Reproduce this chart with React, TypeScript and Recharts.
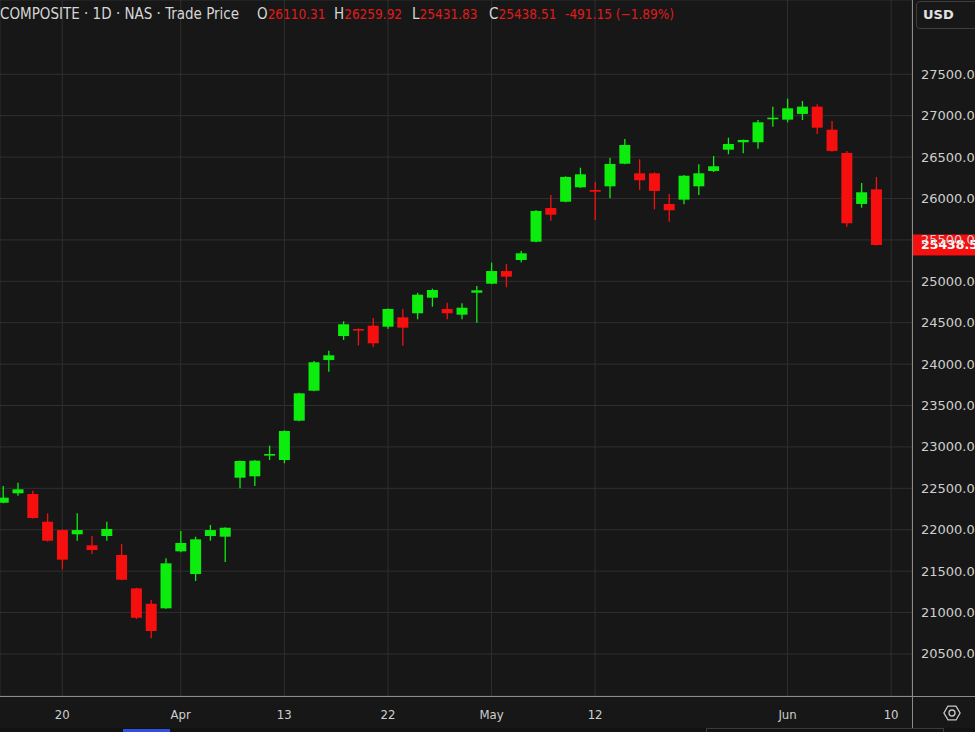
import React from "react";
import {
  ComposedChart,
  Bar,
  XAxis,
  YAxis,
  CartesianGrid,
  ReferenceLine,
} from "recharts";

// ---------- data ----------
const dates = [
  "2026-03-16", "2026-03-17", "2026-03-18", "2026-03-19", "2026-03-20",
  "2026-03-23", "2026-03-24", "2026-03-25", "2026-03-26", "2026-03-27",
  "2026-03-30", "2026-03-31", "2026-04-01", "2026-04-02", "2026-04-06",
  "2026-04-07", "2026-04-08", "2026-04-09", "2026-04-10", "2026-04-13",
  "2026-04-14", "2026-04-15", "2026-04-16", "2026-04-17", "2026-04-20",
  "2026-04-21", "2026-04-22", "2026-04-23", "2026-04-24", "2026-04-27",
  "2026-04-28", "2026-04-29", "2026-04-30", "2026-05-01", "2026-05-04",
  "2026-05-05", "2026-05-06", "2026-05-07", "2026-05-08", "2026-05-11",
  "2026-05-12", "2026-05-13", "2026-05-14", "2026-05-15", "2026-05-18",
  "2026-05-19", "2026-05-20", "2026-05-21", "2026-05-22", "2026-05-26",
  "2026-05-27", "2026-05-28", "2026-05-29", "2026-06-01", "2026-06-02",
  "2026-06-03", "2026-06-04", "2026-06-05", "2026-06-08", "2026-06-09",
  "2026-06-10",
];

const openPrices = [
  22326, 22440, 22431, 22097, 21996, 21945, 21812, 21924, 21695, 21292,
  21106, 21051, 21739, 21465, 21924, 21916, 22628, 22645, 22906, 22842,
  23317, 23679, 24050, 24339, 24424, 24464, 24452, 24565, 24614, 24802,
  24666, 24597, 24862, 24971, 25124, 25257, 25478, 25885, 25961, 26135,
  26103, 26147, 26420, 26304, 26304, 25934, 25986, 26147, 26332, 26589,
  26679, 26679, 26964, 26952, 27021, 27109, 26831, 26550, 25934, 26110.31,
];
const highPrices = [
  22528, 22568, 22471, 22198, 22005, 22198, 21924, 22097, 21828, 21300,
  21151, 21655, 21984, 21916, 22057, 22030, 22835, 22842, 23015, 23200,
  23655, 24038, 24162, 24517, 24430, 24557, 24672, 24666, 24862, 24911,
  24742, 24734, 24943, 25225, 25209, 25366, 25861, 26042, 26268, 26372,
  26199, 26493, 26719, 26473, 26316, 26054, 26284, 26414, 26513, 26734,
  26712, 26948, 27109, 27205, 27178, 27138, 26936, 26574, 26187, 26259.92,
];
const lowPrices = [
  22320, 22411, 22135, 21855, 21522, 21867, 21707, 21867, 21390, 20922,
  20689, 21045, 21727, 21381, 21867, 21610, 22500, 22528, 22842, 22802,
  23310, 23672, 23908, 24291, 24225, 24207, 24428, 24222, 24541, 24693,
  24541, 24541, 24500, 24965, 24928, 25230, 25471, 25732, 25955, 26128,
  25740, 26002, 26412, 26103, 25870, 25720, 25930, 26042, 26320, 26534,
  26546, 26601, 26867, 26920, 26948, 26779, 26565, 25659, 25889, 25431.83,
];
const closePrices = [
  22387, 22488, 22141, 21867, 21638, 21996, 21755, 22009, 21396, 20937,
  20777, 21594, 21840, 21884, 21996, 22024, 22830, 22834, 22914, 23192,
  23647, 24022, 24106, 24481, 24412, 24251, 24666, 24440, 24838, 24895,
  24614, 24681, 24891, 25124, 25056, 25338, 25849, 25804, 26260, 26292,
  26082, 26417, 26646, 26220, 26091, 25858, 26275, 26304, 26389, 26658,
  26707, 26920, 26976, 27089, 27109, 26855, 26574, 25701, 26075, 25438.51,
];

// header change values as printed on the chart
const dayChange = -491.15;
const dayChangePct = -1.89;

const tickDates = [
  "2026-03-20", "2026-04-01", "2026-04-13", "2026-04-22",
  "2026-05-01", "2026-05-12", "2026-06-01", "2026-06-10",
];
const tickLabels = ["20", "Apr", "13", "22", "May", "12", "Jun", "10"];

const yTicks = [
  20500, 21000, 21500, 22000, 22500, 23000, 23500, 24000,
  24500, 25000, 25500, 26000, 26500, 27000, 27500,
];

// ---------- styling ----------
const BG = "#171717";
const GRID = "#2f2f2f";
const GREEN = "#0ded0d";
const RED = "#f50f0f";
const HEADER_RED = "#e01b1b";
const TEXT = "#cfcfcf";
const NARROW = "'Liberation Sans Narrow', 'DejaVu Sans Condensed', 'Arial Narrow', sans-serif";
const WIDE = "'DejaVu Sans', Verdana, sans-serif";

const data = closePrices.map((c, i) => ({
  idx: i,
  date: dates[i],
  open: openPrices[i],
  high: highPrices[i],
  low: lowPrices[i],
  close: c,
  range: [lowPrices[i], highPrices[i]],
}));

const tickIdx = tickDates.map((d) => dates.indexOf(d));
const lastClose = closePrices[closePrices.length - 1];
const lastOpen = openPrices[openPrices.length - 1];
const lastHigh = highPrices[highPrices.length - 1];
const lastLow = lowPrices[lowPrices.length - 1];

const Candle = (props: any) => {
  const { x, y, width, height, payload } = props;
  if (!payload) return null;
  const { open, close, high, low } = payload;
  const top = Math.min(y, y + height);
  const h = Math.abs(height);
  const k = h / (high - low);
  const py = (v: number) => top + (high - v) * k;
  const up = close >= open;
  const color = up ? GREEN : RED;
  const cx = x + width / 2;
  const bTop = py(Math.max(open, close));
  const bBot = py(Math.min(open, close));
  return (
    <g>
      <line x1={cx} x2={cx} y1={top} y2={top + h} stroke={color} strokeWidth={1.3} />
      <rect x={x} y={bTop} width={width} height={Math.max(1.6, bBot - bTop)} fill={color} />
    </g>
  );
};

const XTick = (props: any) => {
  const { x, y, payload } = props;
  const i = tickIdx.indexOf(payload.value);
  return (
    <text x={x} y={y + 21} textAnchor="middle" fill={TEXT} fontSize={13} fontFamily={NARROW}>
      {tickLabels[i]}
    </text>
  );
};

const YTick = (props: any) => {
  const { x, y, payload } = props;
  return (
    <text x={x + 9} y={y + 4.5} textAnchor="start" fill={TEXT} fontSize={13} fontFamily={WIDE}>
      {Number(payload.value).toFixed(2)}
    </text>
  );
};

const PriceTag = (props: any) => {
  const vb = props.viewBox || {};
  const { x, y, width } = vb;
  return (
    <g>
      <rect x={x + width + 1} y={y - 10.5} width={70} height={21} fill={RED} />
      <text x={x + width + 9} y={y + 4.5} fill="#ffffff" fontSize={12.5} fontWeight="bold" fontFamily={WIDE}>
        {lastClose.toFixed(2)}
      </text>
    </g>
  );
};

const fmt = (v: number) => v.toFixed(2);
const NUM: React.CSSProperties = { color: HEADER_RED, fontSize: 13.5 };

export default function App() {
  return (
    <div
      style={{
        position: "absolute",
        left: 0,
        top: 0,
        width: 975,
        height: 732,
        background: BG,
        overflow: "hidden",
      }}
    >
      <ComposedChart
        width={975}
        height={732}
        data={data}
        margin={{ top: 0, right: 0, bottom: 0, left: 0 }}
      >
        <CartesianGrid stroke={GRID} strokeWidth={1} />
        <XAxis
          dataKey="idx"
          type="number"
          domain={[-0.21, 61.41]}
          allowDataOverflow
          ticks={tickIdx}
          interval={0}
          tickLine={false}
          axisLine={false}
          tickSize={0}
          height={36}
          tick={<XTick />}
        />
        <YAxis
          orientation="right"
          width={63}
          domain={[19992, 28397]}
          allowDataOverflow
          ticks={yTicks}
          interval={0}
          tickLine={false}
          axisLine={false}
          tickSize={0}
          tickMargin={0}
          tick={<YTick />}
        />
        <Bar dataKey="range" barSize={11} shape={(p: any) => <Candle {...p} />} isAnimationActive={false} />
        <ReferenceLine y={lastClose} stroke="none" ifOverflow="visible" label={<PriceTag />} />
      </ComposedChart>

      {/* axis separators */}
      <div style={{ position: "absolute", left: 912, top: 0, width: 1, height: 732, background: "#8c8c8c" }} />
      <div style={{ position: "absolute", left: 0, top: 696, width: 975, height: 1, background: "#8c8c8c" }} />

      {/* header */}
      <div
        style={{
          position: "absolute",
          left: 0,
          top: 4,
          height: 20,
          width: 900,
          fontFamily: NARROW,
          fontSize: 15,
          color: "#d6d6d6",
          whiteSpace: "nowrap",
          lineHeight: "20px",
        }}
      >
        <span style={{ position: "absolute", left: 0 }}>COMPOSITE · 1D · NAS · Trade Price</span>
        <span style={{ position: "absolute", left: 257 }}>
          O<span style={NUM}>{fmt(lastOpen)}</span>
        </span>
        <span style={{ position: "absolute", left: 334 }}>
          H<span style={NUM}>{fmt(lastHigh)}</span>
        </span>
        <span style={{ position: "absolute", left: 412 }}>
          L<span style={NUM}>{fmt(lastLow)}</span>
        </span>
        <span style={{ position: "absolute", left: 489 }}>
          C<span style={NUM}>{fmt(lastClose)}</span>
        </span>
        <span style={{ position: "absolute", left: 565, ...NUM }}>
          {dayChange.toFixed(2)} ({"\u2212"}{Math.abs(dayChangePct).toFixed(2)}%)
        </span>
      </div>

      {/* currency box */}
      <div
        style={{
          position: "absolute",
          left: 916,
          top: 1,
          width: 80,
          height: 28,
          border: "1px solid #3e3e3e",
          borderRadius: 4,
          boxSizing: "border-box",
          fontFamily: WIDE,
          fontWeight: "bold",
          fontSize: 13,
          color: "#e2e2e2",
          lineHeight: "26px",
          paddingLeft: 6,
        }}
      >
        USD
      </div>

      {/* settings icon */}
      <svg
        style={{ position: "absolute", left: 942, top: 703 }}
        width={20}
        height={20}
        viewBox="0 0 20 20"
      >
        <polygon
          points="10,2 17,6 17,14 10,18 3,14 3,6"
          fill="none"
          stroke="#c8c8c8"
          strokeWidth={1.3}
          transform="rotate(30 10 10)"
        />
        <circle cx={10} cy={10} r={3} fill="none" stroke="#c8c8c8" strokeWidth={1.3} />
      </svg>

      {/* bottom toolbar strip */}
      <div style={{ position: "absolute", left: 0, top: 728, width: 975, height: 4, background: "#121212" }} />
      <div style={{ position: "absolute", left: 123, top: 729, width: 47, height: 3, background: "#2f4fe0" }} />
      <div
        style={{
          position: "absolute",
          left: 706,
          top: 728,
          width: 238,
          height: 6,
          border: "1px solid #3a3a3a",
          boxSizing: "border-box",
        }}
      />
    </div>
  );
}
